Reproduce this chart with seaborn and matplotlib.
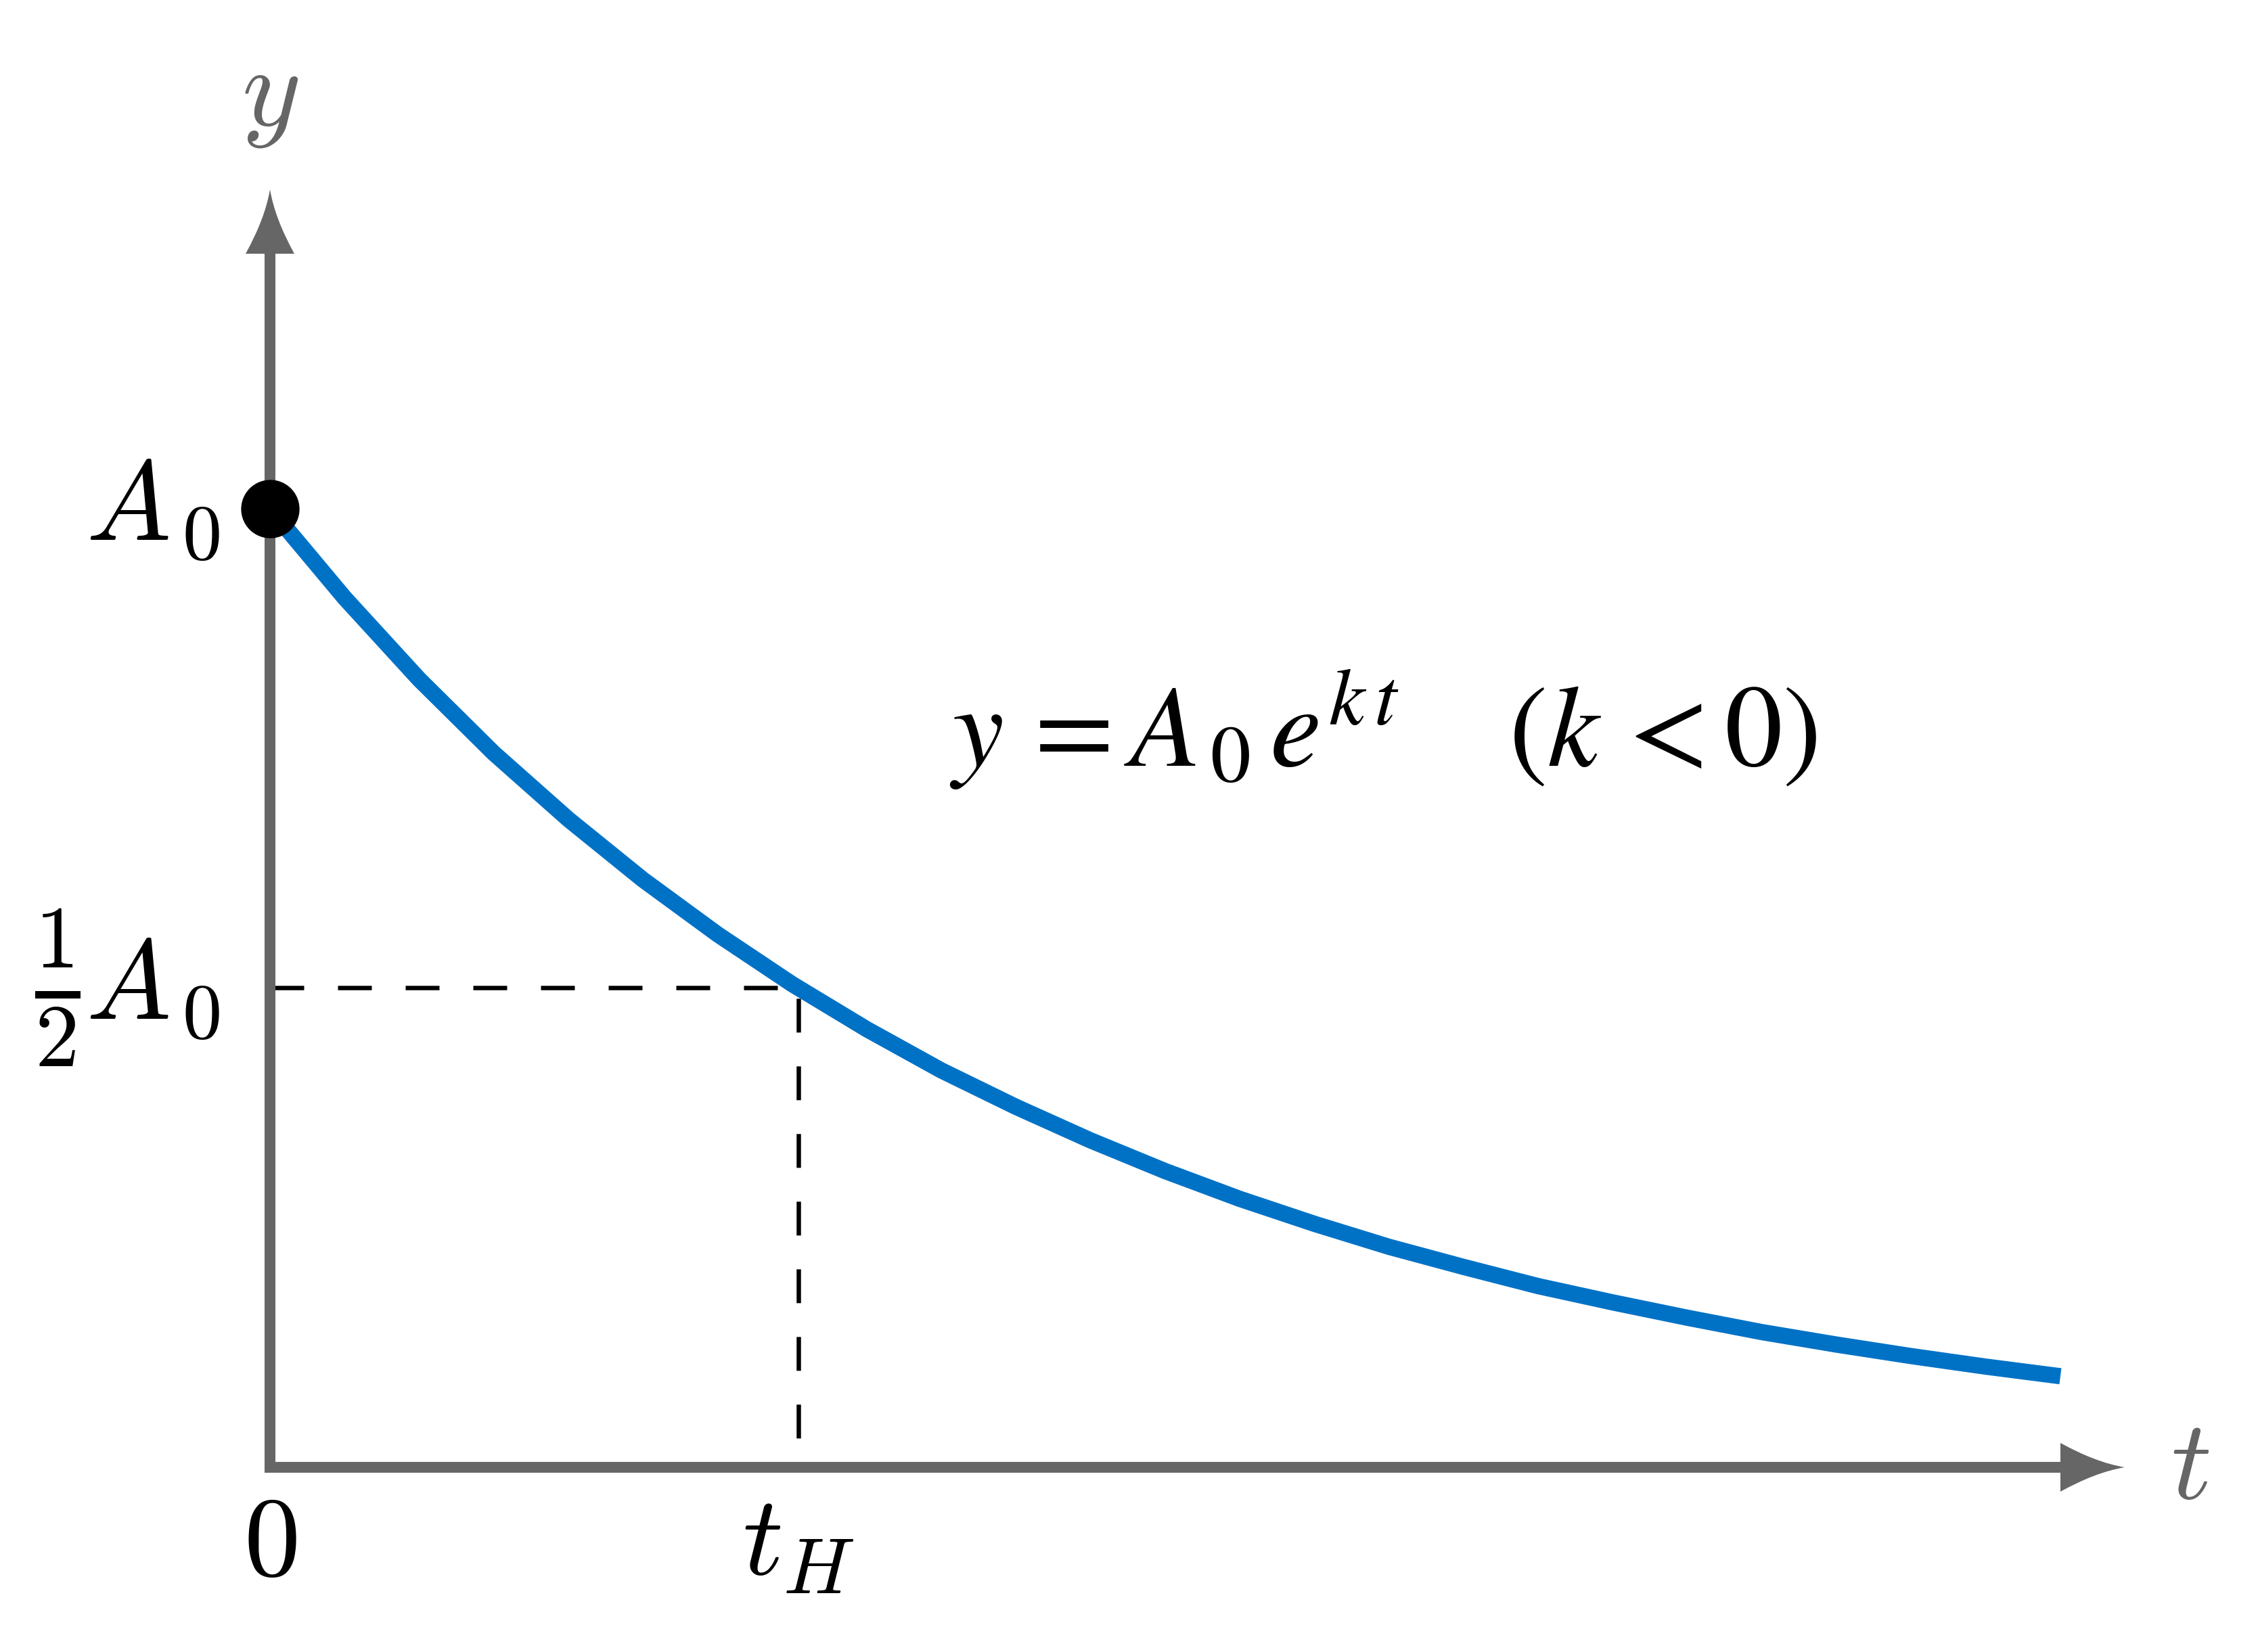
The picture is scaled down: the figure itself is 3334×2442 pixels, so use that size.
import matplotlib
matplotlib.use("Agg")
import matplotlib.pyplot as plt
import matplotlib.transforms as mtransforms
from matplotlib.path import Path
from matplotlib.patches import PathPatch
import seaborn as sns
import pandas as pd

# decay curve samples (y in units of A0)
t_vals = [0.0, 0.5, 1.0, 1.5, 2.0, 2.5, 3.0, 3.5, 4.0, 4.5, 5.0, 5.5, 6.0,
          6.5, 7.0, 7.5, 8.0, 8.5, 9.0, 9.5, 10.0, 10.5, 11.0, 11.5, 12.0]
y_vals = [1.000, 0.907, 0.822, 0.745, 0.676, 0.613, 0.556, 0.504, 0.457,
          0.414, 0.376, 0.341, 0.309, 0.280, 0.254, 0.230, 0.209, 0.189,
          0.172, 0.156, 0.141, 0.128, 0.116, 0.105, 0.095]
a0 = 1.0
half_level = 0.5
t_half = 3.54

axis_top = 1.266
axis_right = 12.0

axis_gray = "#666666"
curve_blue = "#0072C6"

sns.set_theme(style="white")
plt.rcParams["lines.scale_dashes"] = False

df = pd.DataFrame({"t": t_vals, "y": y_vals})

fig = plt.figure(figsize=(3334 / 300, 2442 / 300), dpi=300)
ax = fig.add_axes([0, 0, 1, 1])
ax.set_xlim(-1.8095, 13.311)
ax.set_ylim(-0.1927, 1.5307)
ax.axis("off")

# axes drawn as one L-shaped line
ax.plot([0, 0, axis_right], [axis_top, 0, 0], color=axis_gray, lw=3.84,
        solid_joinstyle="miter", solid_capstyle="butt", zorder=2)


def arrow_head(x, y, angle):
    # concave-sided arrowhead, sizes in points, tip at (x, y)
    L, W, c = 22.8, 8.64, 2.6
    verts = [(0, 0), (-L * 0.45, W * 0.5 - c), (-L, W), (-L, -W),
             (-L * 0.45, -W * 0.5 + c), (0, 0), (0, 0)]
    codes = [Path.MOVETO, Path.CURVE3, Path.CURVE3, Path.LINETO,
             Path.CURVE3, Path.CURVE3, Path.CLOSEPOLY]
    tr = (mtransforms.Affine2D().rotate_deg(angle).scale(1 / 72)
          + fig.dpi_scale_trans
          + mtransforms.ScaledTranslation(x, y, ax.transData))
    ax.add_patch(PathPatch(Path(verts, codes), transform=tr, facecolor=axis_gray,
                           edgecolor="none", zorder=2))


arrow_head(0, axis_top + 95 / 1417, 90)
arrow_head(axis_right + 95 / 220.5, 0, 0)

# half-life guides
ax.plot([0, t_half], [half_level, half_level], color="black", lw=1.56,
        linestyle=(0, (12, 12)), zorder=1)
ax.plot([t_half, t_half], [half_level, 0], color="black", lw=1.56,
        linestyle=(20.2, (12, 12)), zorder=1)

sns.lineplot(data=df, x="t", y="y", ax=ax, color=curve_blue, lw=5.76,
             solid_capstyle="butt", zorder=3)
ax.plot([0], [a0], marker="o", color="black", markersize=19.7, zorder=4)

cm = dict(math_fontfamily="cm", fontsize=40)
ax.text(0, 1.432, "$y$", ha="center", va="center", color=axis_gray, **cm)
ax.text(12.871, 0.0, "$t$", ha="center", va="center", color=axis_gray, **cm)
ax.text(0, -0.0797, "$0$", ha="center", va="center", color="black", **cm)
ax.text(t_half, -0.079, "$t_H$", ha="center", va="center", color="black", **cm)
ax.text(-0.3356, a0, r"$A_{\,0}$", ha="right", va="center", color="black", **cm)
ax.text(-0.3356, half_level, r"$A_{\,0}$", ha="right", va="center",
        color="black", **cm)
ax.text(-1.424, half_level, r"$\frac{1}{2}$", ha="center", va="center",
        color="black", math_fontfamily="cm", fontsize=45)

ax.text(4.553, 0.731, r"$y\,=A_{\,0}\,e^{k\,t}\quad\;(k\,<0)$", ha="left",
        va="baseline", color="black", math_fontfamily="stix", fontsize=41)

fig.savefig("out.png", dpi=300, facecolor="white")
